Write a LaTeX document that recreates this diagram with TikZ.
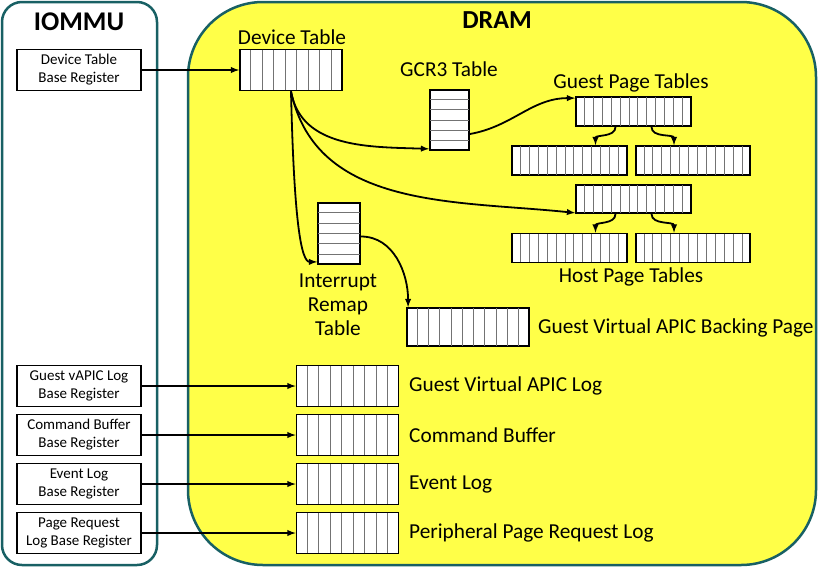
\documentclass[tikz,border=0pt]{standalone}
\usepackage{fontspec}
\setmainfont{Carlito}
\usetikzlibrary{arrows,positioning,calc}

\definecolor{boxline}{RGB}{24,96,100}
\definecolor{dramyellow}{RGB}{255,255,72}

% vertical cell lines in a row table / horizontal lines in a stack table
\newcommand{\hcells}[2]{%
  \foreach \k in {1,...,#2}
    \draw[cellline] ($(#1.north west)!{\k/(#2+1)}!(#1.north east)$) -- ($(#1.south west)!{\k/(#2+1)}!(#1.south east)$);}
\newcommand{\vcells}[2]{%
  \foreach \k in {1,...,#2}
    \draw[cellline] ($(#1.north west)!{\k/(#2+1)}!(#1.south west)$) -- ($(#1.north east)!{\k/(#2+1)}!(#1.south east)$);}

\begin{document}
\begin{tikzpicture}[x=1pt, y=1pt, >=latex]
\tikzstyle{reg} = [draw, line width=1.8pt, fill=white, minimum width=124pt, minimum height=41pt, inner sep=0pt, align=center, font=\fontsize{15}{18}\selectfont]
\tikzstyle{tbl} = [draw, line width=1.8pt, fill=white, inner sep=0pt]
\tikzstyle{cellline} = [black!55, line width=1pt, shorten >=1pt, shorten <=1pt]
\tikzstyle{lbl} = [font=\fontsize{21.3}{24}\selectfont, inner sep=0pt]
\tikzstyle{link} = [->, line width=1.8pt]

\useasboundingbox (0,0) rectangle (819,-568);

% the two regions
\draw[boxline, line width=2.5pt, rounded corners=20pt] (2,-2) rectangle (157,-565);
\draw[boxline, fill=dramyellow, line width=2.5pt, rounded corners=75pt] (188,-2) rectangle (816,-565);
\node[font=\bfseries\fontsize{27}{28}\selectfont] (iommu) at (79,-22) {IOMMU};
\node[font=\bfseries\fontsize{26}{28}\selectfont] (dram) at (497,-20) {DRAM};

% base registers
\node[reg] (dtreg) at (79,-70) {Device Table\\Base Register};
\node[reg] (vlreg) at (79,-386) {Guest vAPIC Log\\Base Register};
\node[reg] (cbreg) at (79,-435) {Command Buffer\\Base Register};
\node[reg] (elreg) at (79,-484) {Event Log\\Base Register};
\node[reg] (prreg) at (79,-533) {Page Request\\Log Base Register};

% device table, GCR3 and page tables
\node[tbl, minimum width=102pt, minimum height=41pt] (dt) at (291,-70) {};
\node[tbl, minimum width=39pt, minimum height=60pt] (gcr) at (449.5,-120) {};
\node[tbl, minimum width=115pt, minimum height=29pt] (gpt) at (633.5,-111.5) {};
\node[tbl, minimum width=115pt, minimum height=29pt] (gptl) at (569.5,-160.5) {};
\node[tbl, minimum width=114pt, minimum height=29pt] (gptr) at (693,-160.5) {};
\node[tbl, minimum width=115pt, minimum height=28pt] (hpt) at (633.5,-199) {};
\node[tbl, minimum width=115pt, minimum height=29pt] (hptl) at (569.5,-248) {};
\node[tbl, minimum width=114pt, minimum height=29pt] (hptr) at (693,-248) {};
\node[tbl, minimum width=42pt, minimum height=61pt] (irt) at (339,-233.5) {};
\node[tbl, minimum width=122pt, minimum height=38pt] (vapic) at (468,-327) {};

% logs
\node[tbl, minimum width=102pt, minimum height=41pt] (vlog) at (347.5,-386) {};
\node[tbl, minimum width=102pt, minimum height=41pt] (cbuf) at (347.5,-435) {};
\node[tbl, minimum width=102pt, minimum height=41pt] (elog) at (347.5,-484) {};
\node[tbl, minimum width=102pt, minimum height=41pt] (prlog) at (347.5,-533) {};

\hcells{dt}{8}
\vcells{gcr}{5}
\hcells{gpt}{12}
\hcells{gptl}{12}
\hcells{gptr}{12}
\hcells{hpt}{12}
\hcells{hptl}{12}
\hcells{hptr}{12}
\vcells{irt}{5}
\hcells{vapic}{10}
\hcells{vlog}{8}
\hcells{cbuf}{8}
\hcells{elog}{8}
\hcells{prlog}{8}

% labels
\node[lbl] (dtlbl) at (292,-37) {Device Table};
\node[lbl] (gcrlbl) at (449,-69) {GCR3 Table};
\node[lbl] (gptlbl) at (631,-83) {Guest Page Tables};
\node[lbl] (hptlbl) at (631,-277) {Host Page Tables};
\node[lbl, align=center] (irtlbl) at (338,-305) {Interrupt\\Remap\\Table};
\node[lbl, anchor=west] (vapiclbl) at (538,-328) {Guest Virtual APIC Backing Page};
\node[lbl, anchor=west] (vloglbl) at (409,-386) {Guest Virtual APIC Log};
\node[lbl, anchor=west] (cbuflbl) at (409,-435) {Command Buffer};
\node[lbl, anchor=west] (eloglbl) at (409,-484) {Event Log};
\node[lbl, anchor=west] (prloglbl) at (409,-533) {Peripheral Page Request Log};

% pointers
\draw[link] (dtreg) -- (dt);
\draw[link] (dt.south) .. controls +(3,-130) and +(-16,0) .. ([yshift=3pt]irt.south west);
\draw[link] (dt.south) to[out=-80, in=178] ([yshift=2pt]gcr.south west);
\draw[link] (dt.south) to[out=-78, in=174] ([yshift=1pt]hpt.south west);
\draw[link] ([yshift=-14pt]gcr.east) to[out=10, in=180] ([yshift=-2pt]gpt.north west);
\draw[link] ([yshift=-3pt]irt.east) to[out=0, in=90] ([xshift=2pt]vapic.north west);
\draw[link] ([xshift=-18pt]gpt.south) to[out=-90, in=90] ([xshift=26pt]gptl.north);
\draw[link] ([xshift=18pt]gpt.south) to[out=-90, in=90] ([xshift=-19pt]gptr.north);
\draw[link] ([xshift=-18pt]hpt.south) to[out=-90, in=90] ([xshift=26pt]hptl.north);
\draw[link] ([xshift=18pt]hpt.south) to[out=-90, in=90] ([xshift=-19pt]hptr.north);
\draw[link] (vlreg) -- (vlog);
\draw[link] (cbreg) -- (cbuf);
\draw[link] (elreg) -- (elog);
\draw[link] (prreg) -- (prlog);
\end{tikzpicture}
\end{document}
